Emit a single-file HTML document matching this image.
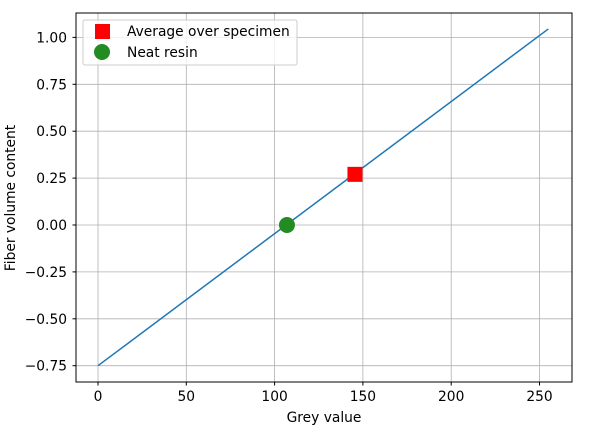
<!DOCTYPE html>
<html><head><meta charset="utf-8"><style>
body{margin:0;background:#fff;font-family:"Liberation Sans","DejaVu Sans",sans-serif}
svg text{font-family:"DejaVu Sans","Liberation Sans",sans-serif;font-size:13.8px;fill:#000}
</style></head><body>
<svg id="chart" width="597" height="432" xmlns="http://www.w3.org/2000/svg">
<g id="grid"></g>
<g id="xticks"></g>
<g id="yticks"></g>
<g id="marks"></g>
<rect x="76" y="13" width="496" height="369" fill="none" stroke="#000" stroke-width="1"/>
<text x="324" y="422" text-anchor="middle">Grey value</text>
<text transform="translate(15,198) rotate(-90)" text-anchor="middle">Fiber volume content</text>
<g>
<rect x="83" y="20" width="214" height="45" rx="2" fill="#fff" fill-opacity="0.8" stroke="#ccc"/>
<g><rect x="95" y="24" width="15" height="15" fill="#ff0000"/><text x="127" y="36">Average over specimen</text></g>
<g><circle cx="102" cy="52" r="8" fill="#228b22"/><text x="127" y="57">Neat resin</text></g>
</g>
</svg>
<script>
const xTicks=[0,50,100,150,200,250];
const yTicks=[-0.75,-0.5,-0.25,0,0.25,0.5,0.75,1.0];
const yTickLabels=["\u22120.75","\u22120.50","\u22120.25","0.00","0.25","0.50","0.75","1.00"];
const lineX=[0,255];
const lineY=[-0.75,1.045];
const avgPoint=[145.5,0.27];
const resinPoint=[107,0];
const X=v=>98+v*1.766, Y=v=>225-v*187.6;
const NS="http://www.w3.org/2000/svg";
function mk(t,a,p){const e=document.createElementNS(NS,t);for(const k in a)e.setAttribute(k,a[k]);p.appendChild(e);return e;}
const g=document.getElementById('grid'),gx=document.getElementById('xticks'),gy=document.getElementById('yticks'),m=document.getElementById('marks');
xTicks.forEach(v=>{const x=X(v);
const l=mk('line',{x1:x,x2:x,y1:13,y2:382,stroke:'#b0b0b0','stroke-width':0.8},g);


mk('line',{x1:x,x2:x,y1:382,y2:385.5,stroke:'#000'},gx);
const t=mk('text',{x:x,y:401,'text-anchor':'middle'},gx);t.textContent=v;

});
yTicks.forEach((v,i)=>{const y=Y(v);
const l=mk('line',{x1:76,x2:572,y1:y,y2:y,stroke:'#b0b0b0','stroke-width':0.8},g);


mk('line',{x1:72.5,x2:76,y1:y,y2:y,stroke:'#000'},gy);
const t=mk('text',{x:67,y:y+5,'text-anchor':'end'},gy);t.textContent=yTickLabels[i];

});
const ln=mk('line',{x1:X(lineX[0]),y1:Y(lineY[0]),x2:X(lineX[1]),y2:Y(lineY[1]),stroke:'#1f77b4','stroke-width':1.5},m);


const sq=mk('rect',{x:X(avgPoint[0])-7.5,y:Y(avgPoint[1])-7.5,width:15,height:15,fill:'#ff0000'},m);


const c=mk('circle',{cx:X(resinPoint[0]),cy:Y(resinPoint[1]),r:8,fill:'#228b22'},m);


</script>
</body></html>
